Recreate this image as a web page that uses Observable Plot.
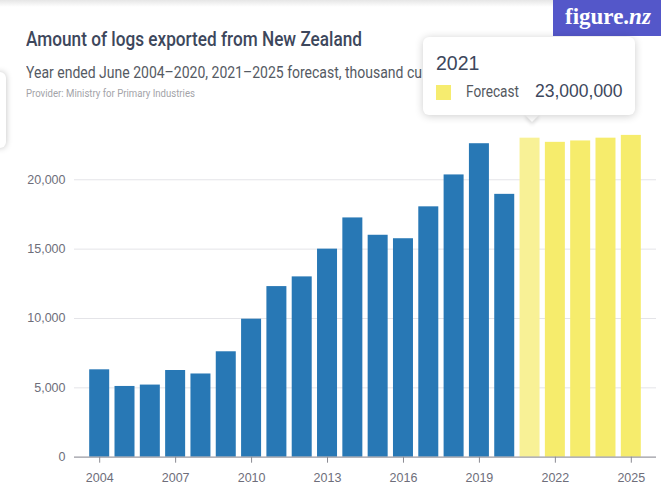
<!DOCTYPE html>
<html>
<head>
<meta charset="utf-8">
<script src="https://cdn.jsdelivr.net/npm/d3@7"></script>
<script src="https://cdn.jsdelivr.net/npm/@observablehq/plot@0.6"></script>
<style>
  html, body { margin: 0; padding: 0; background: #fff; }
  #wrap { position: relative; width: 666px; height: 486px; overflow: hidden; background: #fff; font-family: "Liberation Sans", Arial, sans-serif; }
  #header { position: relative; width: 666px; height: 120px; }
  .fit { font-family: Roboto, "Liberation Sans", sans-serif; line-height: 1; position: absolute; white-space: nowrap; transform-origin: 0 0; }
  #title { left: 26px; top: 29px; font-size: 20.5px; font-weight: 500; color: #3d475c; }
  #subclip { position: absolute; left: 0; top: 60px; width: 423px; height: 26px; overflow: hidden; }
  #subtitle { left: 26px; top: 5px; font-size: 16px; color: #555a63; }
  #provider { left: 26px; top: 89px; font-size: 10px; color: #a3a3a8; }
  #topshade { position: absolute; left: 0; top: 0; width: 553px; height: 7px; background: linear-gradient(#e6e6e6, rgba(255,255,255,0)); }
  #leftshade { position: absolute; left: -6px; top: 72px; width: 12px; height: 76px; border-radius: 6px; background: #fff; box-shadow: 0 0 6px rgba(0,0,0,0.25); }
  #logo { position: absolute; left: 553px; top: 0; width: 108px; height: 36px; background: #5457c9; }
  #logo span { position: absolute; left: 12px; top: 5px; font-family: "Liberation Serif", "DejaVu Serif", serif; font-size: 23px; font-weight: bold; color: #fff; line-height: 1; }
  #tip { position: absolute; left: 423px; top: 37px; width: 212px; height: 78px; background: #fff; border-radius: 6px; box-shadow: 0 1px 8px rgba(0,0,0,0.2); }
  #tiparrow { position: absolute; left: 527px; top: 110px; width: 10px; height: 10px; background: #fff; transform: rotate(45deg); box-shadow: 2px 2px 4px rgba(0,0,0,0.12); }
  #tipyear { position: absolute; left: 13px; top: 17px; font-size: 19.5px; color: #3d475c; line-height: 1; font-family: "Liberation Sans", Arial, sans-serif; }
  #tipsw { position: absolute; left: 13px; top: 48px; width: 15px; height: 15px; background: #f6ec6f; }
  #tiplab { left: 43px; top: 47px; font-size: 16px; color: #55595f; }
  #tipval { position: absolute; left: 112px; top: 46px; font-size: 17.5px; color: #3d475c; line-height: 1; font-family: "Liberation Sans", Arial, sans-serif; }
  #chart { position: absolute; left: 0; top: 120px; }
</style>
</head>
<body>
<div id="wrap">
  <div id="header">
    <div id="topshade"></div>
    <div id="leftshade"></div>
    <div id="title" class="fit" data-w="336">Amount of logs exported from New Zealand</div>
    <div id="subclip"><div id="subtitle" class="fit" data-w="396">Year ended June 2004–2020, 2021–2025 forecast, thousand cu</div></div>
    <div id="provider" class="fit" data-w="169">Provider: Ministry for Primary Industries</div>
  </div>
  <div id="chart"></div>
  <div id="logo"><span>figure.<i>nz</i></span></div>
  <div id="tiparrow"></div>
  <div id="tip">
    <div id="tipyear">2021</div>
    <div id="tipsw"></div>
    <div id="tiplab" class="fit" data-w="53">Forecast</div>
    <div id="tipval">23,000,000</div>
  </div>
</div>
<script>
const years = ["2004","2005","2006","2007","2008","2009","2010","2011","2012","2013","2014","2015","2016","2017","2018","2019","2020","2021","2022","2023","2024","2025"];
const values = [6300, 5100, 5200, 6250, 6000, 7600, 9950, 12300, 13000, 15000, 17250, 16000, 15750, 18050, 20350, 22600, 18950, 23000, 22700, 22800, 23000, 23200];
const series = ["Actual","Actual","Actual","Actual","Actual","Actual","Actual","Actual","Actual","Actual","Actual","Actual","Actual","Actual","Actual","Actual","Actual","Forecast","Forecast","Forecast","Forecast","Forecast"];
const xTicks = ["2004","2007","2010","2013","2016","2019","2022","2025"];
const yTicks = [0, 5000, 10000, 15000, 20000];
const highlighted = "2021";

// fit header texts horizontally to the reference widths
document.querySelectorAll(".fit").forEach(el => {
  const w = el.getBoundingClientRect().width;
  const target = +el.dataset.w;
  if (w > 0) el.style.transform = `scaleX(${target / w})`;
});

const data = years.map((y, i) => ({year: y, value: values[i], series: series[i]}));
const colorOf = d => d.series === "Actual" ? "#2878b5" : (d.year === highlighted ? "#f8f196" : "#f6ec6c");

const chart = Plot.plot({
  width: 666,
  height: 366,
  marginLeft: 74,
  marginRight: 10,
  marginTop: 3.8,
  marginBottom: 29.3,
  style: {fontFamily: "'Liberation Sans', Arial, sans-serif", fontSize: "12.5px", color: "#6e6e7a", background: "transparent"},
  x: {domain: years, paddingInner: 0.21, paddingOuter: 0.6, round: false},
  y: {domain: [0, 24000]},
  marks: [
    Plot.ruleY(yTicks.filter(t => t > 0), {stroke: "#e4e4e8", strokeWidth: 1}),
    Plot.barY(data, {x: "year", y: "value", fill: colorOf}),
    Plot.ruleY([0], {stroke: "#9a9aa2", strokeWidth: 1.2}),
    Plot.axisY({ticks: yTicks, tickSize: 0, tickPadding: 9, tickFormat: d3.format(","), label: null}),
    Plot.axisX({ticks: xTicks, tickSize: 6, tickPadding: 10, label: null, stroke: "#8a8a92"})
  ]
});
document.getElementById("chart").appendChild(chart);
</script>
</body>
</html>
